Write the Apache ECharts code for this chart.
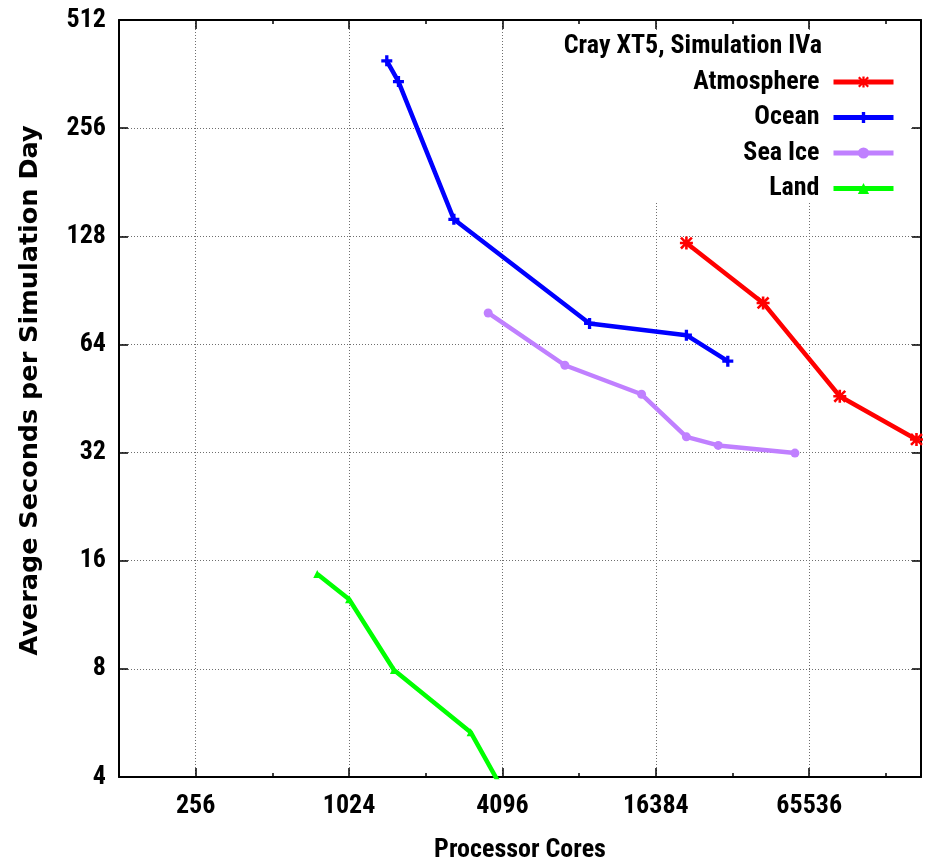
<!DOCTYPE html>
<html><head><meta charset="utf-8">
<script src="https://cdn.jsdelivr.net/npm/echarts@6/dist/echarts.min.js"></script>
<style>html,body{margin:0;padding:0;background:#fff}#c{width:931px;height:866px}</style>
</head><body><div id="c"></div>
<script>
// ---- data ----
const seriesNames = ['Atmosphere', 'Ocean', 'Sea Ice', 'Land'];
const atmosphereCores   = [21600, 43200, 86400, 172800];
const atmosphereSeconds = [122.6, 83.5, 45.9, 34.8];
const oceanCores   = [1440, 1600, 2640, 9000, 21600, 31400];
const oceanSeconds = [394, 345, 142.7, 73.2, 67.9, 57.5];
const seaIceCores   = [3600, 7200, 14400, 21600, 28800, 57600];
const seaIceSeconds = [78.3, 56.0, 46.5, 35.4, 33.5, 31.9];
const landCores   = [768, 1024, 1536, 3072, 4096];
const landSeconds = [14.7, 12.5, 7.94, 5.33, 3.7];
const xMajorTicks = [256, 1024, 4096, 16384, 65536];
const yTickLabels = [4, 8, 16, 32, 64, 128, 256, 512];
const keyTitle = 'Cray XT5, Simulation IVa';
const xTitle = 'Processor Cores';
const yTitle = 'Average Seconds per Simulation Day';

// ---- styling ----
const NARROW = "'Roboto Condensed', 'DejaVu Sans Condensed', Roboto, sans-serif";
const WIDE = "'DejaVu Sans', sans-serif";
const dotted = { color: '#6e6e6e', width: 1, type: [1, 2] };
const colors = ['#ff0000', '#0000ff', '#c080ff', '#00ff00'];
const symbols = [
  'path://M4,0H6V4H10V6H6V10H4V6H0V4H4Z M1.5,0.1L5,3.6L8.5,0.1L9.9,1.5L6.4,5L9.9,8.5L8.5,9.9L5,6.4L1.5,9.9L0.1,8.5L3.6,5L0.1,1.5Z',
  'path://M3.5,0H6.5V3.5H10V6.5H6.5V10H3.5V6.5H0V3.5H3.5Z',
  'circle',
  'triangle'
];
const symbolSizes = [13, 11, 9, 8];

const zip = (a, b) => a.map((v, i) => [v, b[i]]);
const seriesData = [
  zip(atmosphereCores, atmosphereSeconds),
  zip(oceanCores, oceanSeconds),
  zip(seaIceCores, seaIceSeconds),
  zip(landCores, landSeconds)
];

const xCommon = { type: 'log', logBase: 2, min: 128, max: 180000, gridIndex: 0 };
const yCommon = { type: 'log', logBase: 2, min: 4, max: 512, interval: 1, gridIndex: 0 };
const blackLine = { show: true, lineStyle: { color: '#000', width: 2 } };
const txt = (size) => ({ fontFamily: NARROW, fontSize: size, fontWeight: 'bold', color: '#000' });

const chart = echarts.init(document.getElementById('c'), null, { renderer: 'canvas' });
chart.setOption({
  animation: false,
  backgroundColor: '#fff',
  grid: { left: 119, right: 10, top: 20, bottom: 89, outerBoundsMode: 'none', containLabel: false },
  title: {
    text: keyTitle, right: 109, top: 33, padding: 0, z: 10,
    textStyle: txt(26)
  },
  legend: {
    data: seriesNames, orient: 'vertical', align: 'right', right: 35, top: 69, padding: 0,
    itemGap: 9.5, itemWidth: 60, itemHeight: 14, selectedMode: false, z: 10,
    lineStyle: { width: 5 },
    textStyle: Object.assign(txt(26), { padding: [0, 9, 0, 0] })
  },
  graphic: [{ type: 'rect', shape: { x: 505, y: 30, width: 406, height: 173 }, style: { fill: '#fff' }, z: 3, silent: true }],
  xAxis: [
    Object.assign({}, xCommon, {
      position: 'bottom', interval: 1,
      name: xTitle, nameLocation: 'middle', nameGap: 60,
      nameTextStyle: txt(26),
      axisLine: blackLine,
      axisTick: { show: true, inside: true, length: 9, customValues: xMajorTicks, lineStyle: { color: '#000', width: 1.5 } },
      axisLabel: Object.assign(txt(26), { show: true, margin: 16, customValues: xMajorTicks, formatter: v => String(Math.round(v)) }),
      splitLine: { show: true, lineStyle: dotted }
    }),
    Object.assign({}, xCommon, {
      position: 'bottom', interval: 1,
      axisLine: { show: false },
      axisTick: { show: true, inside: true, length: 4, lineStyle: { color: '#000', width: 1.5 } },
      axisLabel: { show: false }, splitLine: { show: false }
    }),
    Object.assign({}, xCommon, {
      position: 'top', interval: 1,
      axisLine: blackLine,
      axisTick: { show: true, inside: true, length: 9, customValues: xMajorTicks, lineStyle: { color: '#000', width: 1.5 } },
      axisLabel: { show: false }, splitLine: { show: false }
    }),
    Object.assign({}, xCommon, {
      position: 'top', interval: 1,
      axisLine: { show: false },
      axisTick: { show: true, inside: true, length: 4, lineStyle: { color: '#000', width: 1.5 } },
      axisLabel: { show: false }, splitLine: { show: false }
    })
  ],
  yAxis: [
    Object.assign({}, yCommon, {
      position: 'left',
      name: yTitle, nameLocation: 'middle', nameGap: 76, nameRotate: 90,
      nameTextStyle: { fontFamily: WIDE, fontSize: 25.5, fontWeight: 'bold', color: '#000', padding: [0, 0, 0, 16] },
      axisLine: blackLine,
      axisTick: { show: true, inside: true, length: 9, lineStyle: { color: '#000', width: 1.5 } },
      axisLabel: Object.assign(txt(26), {
        show: true, margin: 13,
        formatter: v => yTickLabels.indexOf(Math.round(v)) >= 0 ? String(Math.round(v)) : ''
      }),
      splitLine: { show: true, lineStyle: dotted }
    }),
    Object.assign({}, yCommon, {
      position: 'right',
      axisLine: blackLine,
      axisTick: { show: true, inside: true, length: 9, lineStyle: { color: '#000', width: 1.5 } },
      axisLabel: { show: false }, splitLine: { show: false }
    })
  ],
  series: seriesNames.map((name, i) => ({
    name: name, type: 'line', xAxisIndex: 0, yAxisIndex: 0,
    data: seriesData[i], clip: true,
    symbol: symbols[i], symbolSize: symbolSizes[i], showSymbol: true,
    itemStyle: { color: colors[i] },
    lineStyle: { color: colors[i], width: 4.5 },
    z: 2
  }))
});
</script></body></html>
